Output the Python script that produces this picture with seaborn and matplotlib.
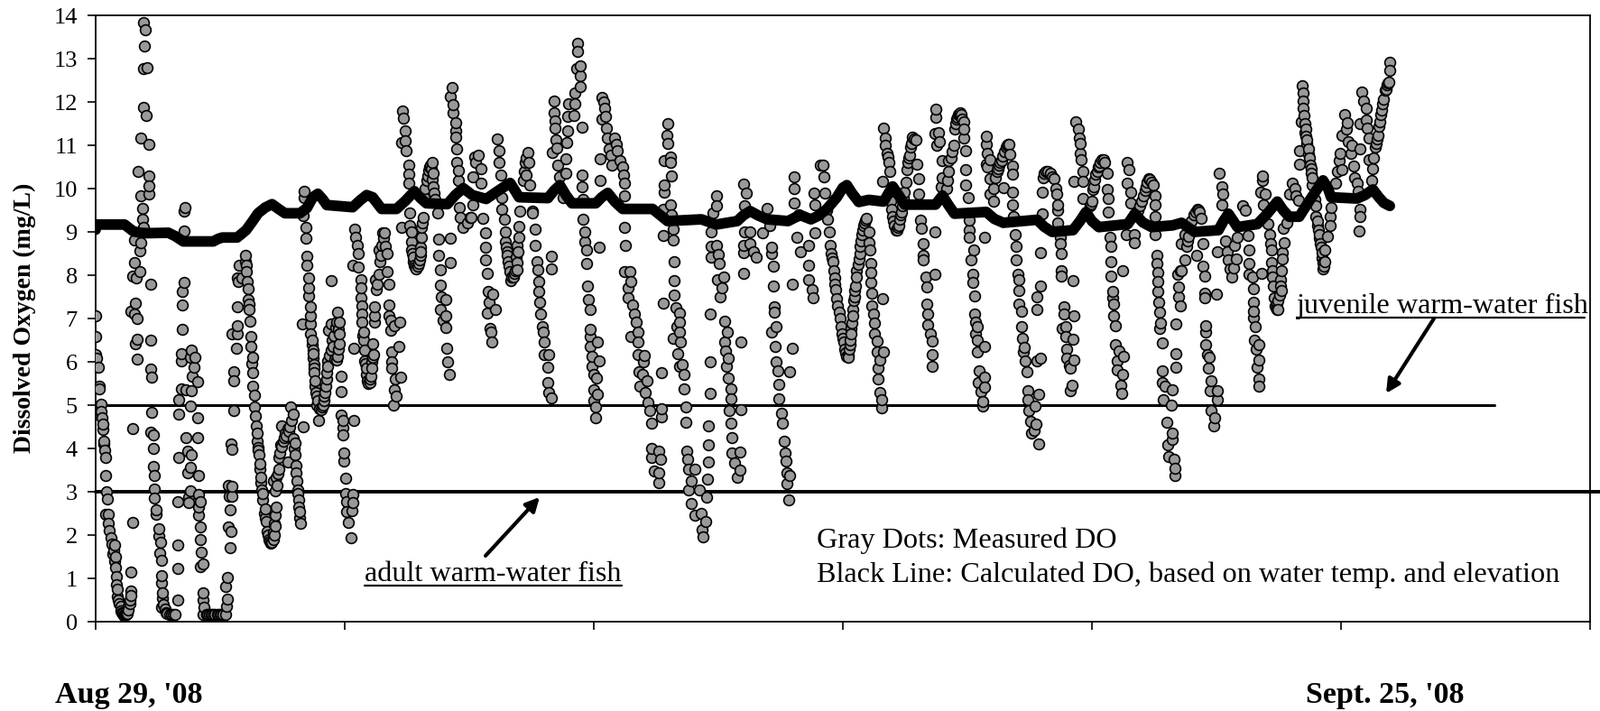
import matplotlib
matplotlib.use('Agg')
import matplotlib.pyplot as plt
import pandas as pd
import seaborn as sns

# half-hourly samples: (sample number, DO in mg/L)
day_01 = [(0,7.06),(0,6.58),(0,6.17),(1,6.08),(3,5.88),(4,5.43),(4,5.38),(5,5.03),(5,4.85),(7,4.57),(7,4.44),(8,4.17),(8,4.1),
          (10,3.79),(10,3.38),(11,2.99),(12,2.84),(10,2.48),(13,2.48),(13,2.28),(15,1.94),(16,1.8),(19,1.78),(17,1.56),(20,1.49),
          (20,1.26),(21,1.05),(21,.85),(22,.59),(23,.5),(25,.35),(25,.26),(26,.21),(29,.17),(32,.19),(33,.35),(34,.5),(35,.7),
          (35,1.15),(37,2.3),(37,4.46)]
day_02 = [(48,13.83),(50,13.67),(49,13.3),(48,12.78),(52,12.8),(48,11.88),(51,11.69),(45,11.17),(53,11.03),(43,10.4),(53,10.29),
          (53,10.07),(45,9.84),(53,9.88),(47,9.55),(47,9.3),(48,9.1),(39,8.82),(45,8.75),(44,8.57),(39,8.29),(44,8.09),(37,7.98),
          (41,7.94),(55,7.79),(40,7.36),(35,7.17),(39,7.1),(42,7),(42,6.53),(55,6.5),(40,6.42),(42,6.06),(55,5.83),(56,5.64),(56,4.83),
          (55,4.38),(58,4.31),(58,4.01),(58,3.59),(59,3.38),(59,3.07),(59,2.86),(61,2.58),(61,2.47),(63,2.15),(63,1.98),(65,1.84),
          (64,1.59),(66,1.41),(66,1.07),(66,.89),(67,.66),(67,.54),(66,.33),(70,.29),(71,.2),(74,.17),(80,.16),(82,.51),(82,1.22),
          (82,1.78),(82,2.78)]
day_03 = [(90,9.57),(89,9.48),(89,9.03),(89,7.83),(87,7.62),(87,7.31),(87,6.75),(86,6.19),(86,6.03),(96,6.27),(100,6.11),(95,6.1),
          (99,5.88),(97,5.66),(102,5.54),(86,5.38),(91,5.35),(96,5.33),(83,5.13),(95,4.98),(83,4.8),(102,4.71),(91,4.26),(102,4.24),
          (83,3.8),(92,3.94),(96,3.86),(95,3.57),(92,3.43),(103,3.38),(95,3.03),(93,2.87),(93,2.75),(103,2.93),(105,2.77),(103,2.65),
          (103,2.45),(105,2.19),(105,1.89),(106,1.61),(108,1.33),(105,1.27),(108,.66),(108,.49),(109,.33),(108,.17),(111,.16),(114,.16),
          (117,.16),(120,.16),(123,.16),(126,.16),(130,.17),(131,.35),(132,.52),(130,.82),(132,1.03),(135,1.7)]
day_04 = [(134,2.9),(133,3.15),(137,3.12),(137,2.9),(135,2.59),(133,2.19),(136,2.08),(136,4.11),(137,3.97),(139,4.87),(139,5.57),
          (139,5.78),(141,6.31),(142,6.64),(137,6.64),(142,6.84),(142,7.27),(150,8.45),(144,8.22),(142,7.94),(143,7.85),(147,7.94),
          (150,8.31),(151,8.22),(151,8.08),(152,7.85),(153,7.68),(153,7.43),(154,7.34),(154,7.2),(155,6.94),(156,6.59),(156,6.36),
          (158,6.1),(158,5.75),(158,5.43),(159,5.22),(159,4.96),(161,4.53),(162,4.36),(162,4.17),(163,4.03),(164,3.85),(165,3.52),
          (166,3.33),(167,3.05),(168,2.82),(169,2.5),(171,2.31),(172,2.08),(174,1.89),(176,1.82),(178,1.89),(178,2.06),(179,2.28),
          (180,2.45),(181,2.65),(180,3.03),(178,3.24),(181,3.33),(184,3.52),(184,3.8),(186,4.08),(188,4.17),(190,4.36),(193,4.45),
          (187,4.53),(195,4.5),(198,4.8),(196,4.96),(193,3.68),(208,4.5),(198,4.22),(200,4.12),(200,3.86),(201,3.61),(201,3.43),
          (202,3.24),(203,3.05),(204,2.82),(205,2.54),(206,2.28)]
day_05 = [(209,9.94),(209,9.8),(208,9.38),(211,9.1),(211,8.85),(212,8.43),(212,8.22),(214,7.94),(214,7.71),(214,7.52),(216,7.27),
          (216,7.06),(207,6.87),(216,6.87),(216,6.64),(217,6.5),(218,6.28),(218,6.08),(219,5.94),(219,5.75),(220,5.57),(220,5.43),
          (222,5.2),(222,5),(225,4.92),(224,4.64),(228,5),(229,5.2),(231,5.43),(232,5.75),(233,6.03),(236,6.27),(237,6.5),(234,6.73),
          (236,6.87),(242,6.92),(243,7.15),(245,6.92),(245,6.64),(245,6.41),(243,6.13),(240,6.06),(246,5.66),(246,5.31),(246,4.78),
          (248,4.64),(248,4.48),(248,4.31),(236,7.88),(249,3.89),(249,3.71),(251,3.31),(251,2.96),(259,4.64),(259,6.31),(252,2.77),
          (258,2.93),(258,2.75),(252,2.54),(257,2.56),(254,2.29),(256,1.93)]
day_06 = [(260,9.06),(261,8.87),(263,8.69),(264,8.5),(258,8.22),(264,8.18),(266,7.9),(266,7.71),(266,7.48),(267,7.29),(267,7.1),
          (267,6.92),(269,6.69),(269,6.5),(270,6.27),(270,6.03),(272,5.85),(273,5.57),(275,5.52),(276,5.66),(277,5.85),(279,6.17),
          (278,6.41),(280,6.92),(280,7.06),(280,7.27),(282,7.66),(281,7.9),(284,8.03),(285,8.31),(284,8.59),(287,8.69),(288,8.97),
          (290,8.97),(291,8.67),(293,8.5),(293,8.08),(294,7.8),(294,7.31),(294,7.06),(296,6.96),(296,6.73),(305,6.92),(300,6.84),
          (304,6.36),(297,6.22),(297,5.99),(297,5.85),(301,5.61),(306,5.64),(300,5.35),(302,5.2),(299,5),(307,9.1)]
day_07 = [(308,11.8),(309,11.62),(311,11.34),(311,11.11),(307,11.06),(312,10.87),(314,10.55),(314,10.34),(314,10.13),(315,9.43),
          (315,9.15),(317,9.01),(317,8.78),(317,8.59),(319,8.41),(320,8.22),(324,8.27),(326,8.45),(326,8.64),(327,8.87),(327,9.1),
          (329,9.34),(330,9.8),(332,10.18),(334,10.41),(338,10.6),(339,10.36),(339,10.04),(341,9.76),(343,9.43),(344,8.83),(344,8.45),
          (346,8.13),(346,7.78),(347,7.5),(346,7.2),(349,6.96),(351,7.43),(351,7.06),(351,6.8),(352,6.31),(353,6),(355,5.71),(356,8.85),
          (356,8.29)]
day_08 = [(358,12.34),(356,12.13),(359,11.93),(359,11.74),(361,11.53),(361,11.34),(361,11.18),(362,10.92),(362,10.6),(364,10.41),
          (364,10.18),(365,9.57),(366,9.34),(369,9.1),(373,9.2),(376,9.34),(379,9.62),(379,10.27),(380,10.73),(384,10.78),(381,10.6),
          (387,10.46),(387,10.13),(377,9.34),(389,9.32),(391,8.98),(391,8.65),(391,8.36),(393,8.05),(394,7.62),(399,7.57),(395,7.38),
          (401,7.2),(393,7.13),(396,6.78),(397,6.68),(398,6.45)]
day_09 = [(403,11.15),(405,10.87),(405,10.6),(407,10.32),(408,9.8),(408,9.52),(410,9.29),(411,9.01),(411,8.78),(413,8.55),(414,8.31),
          (416,8.08),(417,7.87),(420,8.04),(423,8.13),(422,8.41),(423,8.69),(425,8.87),(425,9.13),(426,9.48),(429,10.18),(434,10.83),
          (431,10.6),(435,10.6),(432,10.32),(436,10.08),(438,9.48),(438,9.43),(441,9.06),(441,8.69),(443,8.31),(444,8.13),(445,7.85),
          (445,7.62),(446,7.38),(447,7.1),(448,6.82),(449,6.68),(450,6.45),(450,6.17),(455,6.17),(454,5.87),(454,5.52),(455,5.29),
          (457,5.17),(457,8.43),(457,8.15)]
day_10 = [(460,12.02),(460,11.76),(461,11.57),(461,11.39),(462,11.13),(458,10.83),(463,10.94),(464,10.55),(466,10.27),(469,9.8),
          (472,10.36),(472,10.69),(474,11.34),(473,11.06),(475,11.95),(474,11.67),(481,11.95),(480,11.69),(481,12.2),(486,12.36),
          (486,12.6),(483,12.78),(486,12.84),(484,13.16),(484,13.36),(488,11.41)]
day_11 = [(488,10.32),(488,10.04),(489,9.76),(489,9.29),(491,9.01),(491,8.78),(493,8.59),(493,8.27),(494,7.76),(495,7.43),(496,7.2),
          (496,6.75),(496,6.59),(496,6.36),(498,6.13),(498,5.89),(500,5.71),(504,6.45),(505,6.02),(503,5.62),(500,5.35),(504,5.26),
          (500,5.1),(502,4.96),(502,4.71),(505,8.65),(506,10.69),(506,10.18)]
day_12 = [(508,12.11),(510,12),(511,11.86),(512,11.67),(508,11.6),(513,11.39),(514,11.16),(515,10.92),(517,10.78),(518,10.55),
          (521,11.16),(523,11.02),(524,10.88),(526,10.64),(529,10.5),(530,10.32),(531,10.13),(531,9.83),(531,9.1),(532,8.69),(531,8.08),
          (536,8.08),(537,7.85),(534,7.71),(534,7.48),(539,7.31),(541,7.1),(543,6.92),(544,6.68),(537,6.59),(544,6.45),(544,6.17),
          (551,6.15),(550,6),(545,5.78),(549,5.71),(553,5.57),(546,5.43),(552,5.29),(554,5.06),(556,4.87),(558,4.59),(568,4.92),
          (568,4.73),(568,5.75),(558,3.99),(558,3.8),(561,3.47),(565,3.94),(567,3.75),(565,3.43),(565,3.2)]
day_13 = [(574,11.51),(573,11.22),(574,11.04),(571,10.64),(577,10.73),(577,10.6),(578,10.29),(571,10.08),(571,9.92),(577,9.62),
          (578,9.39),(570,9.52),(580,9.06),(570,8.92),(580,8.81),(581,8.31),(581,7.87),(581,7.54),(570,7.36),(582,7.24),(586,7.12),
          (583,6.82),(586,6.92),(586,6.68),(580,6.55),(587,6.45),(584,6.19),(589,5.94),(586,5.89),(591,5.71),(591,5.38),(592,4.96),
          (592,4.61),(593,3.94),(594,3.75),(595,3.52),(601,3.52),(598,3.24),(595,3.05),(598,2.73),(601,2.45),(606,3.05),(608,2.5),
          (612,2.31),(609,2.12),(610,1.96),(614,3.29),(613,2.87),(615,3.68),(615,4.08),(615,4.53),(617,5.27),(617,5.99),(617,7.1)]
day_14 = [(623,9.83),(623,9.6),(620,9.43),(618,9.01),(618,8.67),(623,8.69),(618,8.41),(625,8.47),(626,8.27),(624,7.9),(630,7.96),
          (629,7.71),(627,7.5),(631,6.94),(634,6.68),(631,6.45),(632,6.26),(635,6.08),(633,5.89),(635,5.62),(638,5.38),(638,5.15),
          (636,4.87),(638,4.59),(639,4.26),(639,3.89),(647,3.92),(641,3.66),(647,3.49),(644,3.33),(648,6.45),(648,4.89)]
day_15 = [(650,10.1),(653,9.9),(651,9.6),(651,9.01),(650,8.69),(650,8.52),(650,8.05),(657,9.01),(657,8.73),(660,8.55),(663,8.41),
          (669,8.97),(674,9.54),(677,9.15),(678,8.64),(678,8.5),(680,8.2),(680,7.76),(681,7.27),(681,7.15),(683,6.81),(678,6.69),
          (682,6.36),(683,5.99),(685,5.8),(686,5.47),(686,5.15),(688,4.82),(689,4.59),(691,4.17),(692,3.89),(693,3.71),(694,3.43),
          (697,3.38),(694,3.19),(696,2.82),(699,6.31),(697,5.78),(699,7.8)]
day_16 = [(701,10.27),(701,9.99),(701,9.66),(706,9.39),(704,8.87),(707,8.55),(716,8.69),(722,8.97),(716,8.22),(716,7.9),(719,7.66),
          (720,7.48),(722,9.62),(721,9.9),(727,10.55),(730,10.55),(731,10.27),(732,9.9),(735,9.29),(736,9.01),(737,8.69),(740,8.31),
          (742,7.94),(743,7.66),(745,7.29),(748,6.82),(751,6.45),(755,6.1),(754,6.12),(757,6.5),(758,6.78),(760,7.06),(761,7.41),
          (763,7.76),(764,8.1),(766,8.38),(767,8.66),(769,8.94),(772,9.21),(774,9.32)]
day_17 = [(776,9),(776,8.76),(777,8.59),(778,8.28),(778,8.07),(778,7.83),(779,7.58),(779,7.3),(781,7.1),(782,6.89),(782,6.64),
          (784,6.47),(784,6.23),(791,6.23),(787,6.05),(785,5.85),(785,5.6),(787,5.29),(789,5.12),(789,4.94),(790,7.46)]
day_18 = [(791,11.4),(793,11.16),(793,10.99),(794,10.81),(796,10.6),(797,10.39),(790,10.17),(799,9.53),(800,9.35),(803,9.04),(806,9.15),
          (809,9.46),(812,9.91),(814,10.43),(817,10.78),(820,11.19),(823,11.12),(824,10.57),(826,10.22),(826,9.87),(828,9.28),(829,9.08),
          (842,8.99),(831,8.73),(831,8.46),(831,8.35),(842,8.02),(833,7.96),(834,7.72),(834,7.34),(835,7.1),(835,6.85),(838,6.64),
          (840,6.47),(840,6.16),(840,5.9)]
day_19 = [(843,11.84),(843,11.65),(842,11.28),(846,11.3),(847,11.09),(844,10.99),(850,10.64),(856,10.64),(856,10.39),(855,10.19),
          (850,10.26),(854,10.01),(849,10.05),(861,10.99),(862,11.37),(865,11.65),(868,11.75),(871,11.54),(871,11.37),(871,11.16),
          (873,10.88),(873,10.43),(873,10.08),(876,9.8),(877,9.28),(877,9.04),(877,8.87),(881,8.59),(879,8.35),(880,8.02),(880,7.83),
          (882,7.53),(882,7.1),(883,6.92),(885,6.82),(883,6.64),(885,6.5),(892,6.35),(885,6.23),(892,8.87),(887,5.8),(892,5.64),
          (886,5.53),(892,5.41),(889,5.32),(890,5.08),(890,4.98)]
day_20 = [(894,11.21),(894,11.02),(895,10.81),(898,10.67),(894,10.57),(905,10.39),(903,10.26),(898,10.22),(901,10),(898,9.87),(901,9.7),
          (911,10.03),(920,10.53),(920,10.33),(920,9.91),(920,9.62),(909,10.64),(914,10.95),(917,11.02),(918,10.8),(921,9.35),(923,8.94),
          (924,8.66),(924,8.35),(926,8.03),(927,7.89),(927,7.65),(927,7.34),(929,7.17),(929,6.82),(930,6.54),(932,6.33),(931,6.23),
          (933,6.02),(935,5.78),(936,5.33),(936,5.12),(947,5.24),(943,4.98),(937,4.87),(938,4.63),(944,4.56),(942,4.42),(939,4.35),
          (947,4.11),(948,8.53),(948,7.76),(945,7.49),(945,7.21),(948,6.09),(945,6.02)]
day_21 = [(954,10.39),(951,10.26),(950,9.91),(962,10.22),(965,9.87),(966,9.63),(966,9.51),(950,9.42),(966,9.21),(968,8.87),(968,8.73),
          (969,8.49),(969,8.1),(969,7.98),(981,7.87),(972,7.27),(972,7.1),(982,7.06),(974,6.82),(970,6.78),(981,6.53),(974,6.58),(975,6.3),
          (975,6.09),(982,6.05),(977,5.92),(978,5.85),(980,5.45),(978,5.33)]
day_22 = [(984,11.54),(986,11.37),(987,11.16),(988,11.05),(988,10.81),(989,10.67),(991,10.39),(991,10.17),(982,10.17),(991,9.77),
          (1000,9.7),(1001,9.98),(1004,10.33),(1007,10.53),(1012,10.67),(1015,10.36),(1015,9.98),(1016,9.77),(1016,9.46),(1018,8.87),
          (1019,8.66),(1019,8.31),(1019,7.98),(1021,7.62),(1021,7.48),(1022,7.33),(1022,7.06),(1024,6.84),(1024,6.4),(1027,6.24),(1032,6.12),
          (1025,6.02),(1031,8.1),(1025,5.81),(1031,5.71),(1029,5.46),(1030,5.27)]
day_23 = [(1035,10.6),(1037,10.43),(1035,10.12),(1039,9.91),(1039,9.67),(1048,9.6),(1052,9.84),(1057,10.22),(1062,10.08),(1063,9.84),
          (1063,9.63),(1063,9.35),(1063,8.94),(1034,8.94),(1043,8.94),(1043,8.76),(1065,8.46),(1065,8.28),(1066,8.07),(1066,7.86),(1066,7.63),
          (1067,7.37),(1068,7.14),(1069,6.89),(1068,6.78),(1071,6.44),(1084,6.87),(1084,6.19),(1084,5.87),(1071,5.79),(1071,5.53),(1073,5.43),
          (1081,5.35),(1072,5.12),(1080,5),(1075,4.6),(1081,4.35),(1081,4.2),(1076,4.08),(1077,3.81),(1082,3.76),(1083,3.55),(1083,3.38)]
day_24 = [(1089,8.1),(1086,8.03),(1087,7.72),(1087,7.51),(1089,7.3),(1090,8.1),(1093,8.35),(1095,8.66),(1093,8.94),(1090,8.73),(1099,9.21),
          (1106,9.53),(1110,9.32),(1105,8.45),(1111,8.21),(1113,7.98),(1113,7.58),(1113,7.48),(1125,7.56),(1111,8.73),(1114,6.84),(1114,6.69),
          (1114,6.4),(1116,6.16),(1118,6.11),(1117,5.85),(1120,5.57),(1119,5.33),(1126,5.33),(1126,5.12),(1120,4.87),(1123,4.7),(1122,4.53)]
day_25 = [(1128,10.36),(1130,10.05),(1131,9.87),(1130,9.63),(1134,8.8),(1136,8.55),(1137,8.35),(1139,8.14),(1140,7.96),(1142,8.17),
          (1145,8.38),(1146,8.87),(1143,8.69),(1126,8.54),(1151,9.6),(1154,9.49),(1157,8.92),(1158,8.58),(1158,8.28),(1158,8.03),(1161,7.96),
          (1162,7.69),(1170,8.05),(1162,7.37),(1162,7.17),(1162,7.03),(1164,6.82),(1163,6.49),(1168,6.39),(1165,6.3),(1168,6.05),(1166,5.88),
          (1168,5.6),(1168,5.43)]
day_26 = [(1171,10.29),(1171,10.19),(1169,9.91),(1174,9.87),(1172,9.63),(1177,9.18),(1178,8.94),(1179,8.73),(1180,8.58),(1180,8.3),
          (1181,8.1),(1181,7.96),(1182,7.76),(1183,7.48),(1186,7.2),(1187,7.41),(1189,7.76),(1190,8.1),(1191,8.38),(1191,8.53),(1193,8.76),
          (1192,9.08),(1196,9.21),(1201,10.12),(1204,10.01),(1205,9.84),(1207,9.73),(1198,9.87)]
day_27 = [(1211,12.37),(1212,12.2),(1212,12.03),(1212,11.85),(1213,11.68),(1210,11.54),(1214,11.51),(1215,11.37),(1216,11.12),(1208,10.88),
          (1208,10.57),(1217,10.92),(1218,10.71),(1220,10.46),(1221,10.26),(1221,10.08),(1225,9.6),(1225,9.35),(1226,9.14),(1228,8.94),
          (1229,8.73),(1231,8.52),(1232,8.14),(1234,8.31),(1234,8.58),(1236,8.9),(1239,9.14),(1239,9.35),(1240,9.56)]
day_28 = [(1245,10.12),(1246,10.4),(1251,10.43),(1248,10.64),(1249,10.81),(1251,11.23),(1254,11.7),(1256,11.52),(1255,11.37),(1257,11.09),
          (1261,10.99),(1260,10.81),(1263,10.53),(1264,10.26),(1266,10.12),(1267,9.94),(1269,9.53),(1269,9.35),(1268,9.02),(1271,12.23),
          (1273,12.03),(1275,11.85),(1269,11.51),(1275,11.58),(1276,11.4),(1278,11.16),(1269,10.92),(1278,10.67),(1282,10.46),(1281,10.19),
          (1283,10.71),(1284,10.95),(1287,11.23),(1288,11.44),(1291,11.82),(1293,12.06),(1294,12.27),(1297,12.44),(1299,12.72),(1299,12.92)]

# extra dots where the strands run solid in the picture
solid_early = [(6,4.7),(9,3.95),(14,2.1),(18,1.65),(19,1.4),(22,.75),(24,.42),(27,.18),(28,.15),(30,.16),(31,.17),(33,.28),(34,.42),(35,.6),
               (68,.4),(72,.18),(76,.16),(78,.16),(112,.16),(116,.16),(119,.16),(122,.16),(125,.16),(128,.16)]
solid_v1 = [(157,5.95),(160,4.75),(163,3.95),(165,3.65),(166,3.2),(168,2.95),(170,2.6),(170,2.4),(173,2),(175,1.85),(177,1.84),(179,2),
            (180,2.2),(182,3.15),(183,3.42),(185,3.9),(187,4.05),(189,4.25),(191,4.3),(194,4.4),(197,4.65),(199,4),(203,2.95),(204,2.65),(205,2.4)]
solid_v2 = [(221,5.3),(223,5.1),(226,4.9),(227,4.95),(229,5.1),(230,5.3),(232,5.6),(233,5.9),(235,6.15),(238,6.35),(239,6.6),(241,6.8),
            (244,6.75),(244,6.3),(242,6.05),(217,6.4),(218,6.18),(219,5.85)]
solid_v3 = [(268,6.6),(271,5.95),(272,5.7),(274,5.5),(275,5.6),(277,6),(278,6.1),(283,7.8),(286,8.45),(289,8.85),
            (318,8.5),(319,8.32),(321,8.18),(322,8.15),(323,8.2),(325,8.35),(326,8.55),(328,9.2),(331,10),(333,10.3),(335,10.5),(336,10.55),
            (337,10.45),(338,10.2),(340,9.9)]
solid_v4 = [(412,8.65),(413,8.45),(415,8.2),(418,7.95),(419,7.95),(421,8.1),(423,8.3),(424,8.55),(430,10.4),(432,10.7)]
solid_v5 = [(734,9.5),(738,8.5),(739,8.4),(741,8.1),(742,7.8),(744,7.45),(746,7.15),(747,7),(749,6.65),(750,6.55),(752,6.3),(753,6.2),
            (755,6.15),(756,6.3),(757,6.4),(758,6.65),(759,6.9),(760,7.2),(762,7.5),(762,7.65),(764,7.95),(765,8.25),(767,8.5),(768,8.8),
            (770,9.05),(771,9.15),(773,9.28)]
solid_v6 = [(801,9.25),(802,9.15),(804,9.05),(805,9.1),(807,9.3),(808,9.4),(810,9.6),(811,9.8),(813,10.15),(815,10.6),(816,10.7),(818,10.95),
            (819,11.05),(822,11.15),(795,10.72),(798,9.7),(859,10.7),(860,10.85),(863,11.5),(864,11.6),(866,11.7),(867,11.73),(869,11.7),
            (870,11.6),(895,10.5),(906,10.45),(907,10.55),(908,10.6),(910,10.75),(912,10.85),(915,11),(916,11.02)]
solid_v7 = [(998,9.6),(999,9.65),(1002,10.05),(1003,10.2),(1005,10.4),(1006,10.5),(1008,10.6),(1010,10.66),(1013,10.6),
            (1046,9.5),(1050,9.7),(1053,9.95),(1054,10.05),(1055,10.15),(1058,10.2),(1060,10.15),(952,10.35),(956,10.4),(958,10.35),(960,10.28),(964,10),
            (1184,7.3),(1185,7.25),(1186,7.35),(1187,7.2),(1188,7.55),(1189,7.9),(1190,7.65),(1096,8.8),(1097,8.9),(1098,9.1),(1100,9.25),(1102,9.4),
            (1104,9.45),(1107,9.5),(1108,9.45)]
solid_end = [(1214,11.3),(1215,11.2),(1216,11.05),(1217,10.8),(1219,10.55),(1220,10.35),(1224,9.75),(1226,9.25),(1227,9.05),(1228,8.85),
             (1230,8.65),(1231,8.4),(1232,8.3),(1233,8.2),(1285,11.05),(1286,11.15),(1289,11.55),(1290,11.7),(1292,11.95),(1295,12.3),(1296,12.4),(1298,12.45)]

calc_do = [(0,9.05),(1,9.17),(16,9.17),(29,9.17),(34,9.08),(38,9.01),(45,8.98),(52,8.97),(73,8.98),(80,8.9),(88,8.78),(118,8.78),(123,8.84),(127,8.87),
           (142,8.87),(151,9.04),(157,9.23),(163,9.43),(170,9.56),(177,9.64),(183,9.54),(190,9.43),(205,9.43),(212,9.55),(218,9.8),(223,9.88),
           (228,9.75),(232,9.62),(258,9.57),(265,9.72),(272,9.85),(278,9.8),(283,9.65),(287,9.53),(302,9.53),(311,9.72),(320,9.94),(326,9.78),
           (332,9.66),(353,9.64),(361,9.85),(369,10.01),(378,9.85),(392,9.76),(404,9.95),(416,10.13),(421,9.95),(425,9.8),(454,9.78),(460,9.95),
           (466,10.08),(472,9.85),(478,9.66),(502,9.66),(508,9.8),(514,9.9),(521,9.7),(529,9.53),(559,9.53),(566,9.4),(574,9.25),(608,9.29),
           (623,9.17),(644,9.25),(650,9.38),(657,9.48),(665,9.38),(674,9.29),(695,9.25),(707,9.39),(718,9.29),(726,9.38),(734,9.53),(744,9.8),
           (750,10.02),(754,10.08),(759,9.9),(766,9.69),(776,9.74),(791,9.7),(796,9.9),(800,10.05),(806,9.85),(812,9.63),(843,9.63),(850,9.84),
           (856,9.62),(862,9.42),(894,9.46),(902,9.3),(911,9.21),(945,9.28),(952,9.12),(960,9),(981,9.04),(988,9.25),(994,9.46),(1000,9.25),
           (1007,9.11),(1036,9.18),(1043,9.42),(1051,9.22),(1060,9.11),(1081,9.15),(1090,9.21),(1103,9),(1127,9.04),(1132,9.25),(1137,9.42),
           (1142,9.25),(1146,9.11),(1166,9.18),(1176,9.42),(1186,9.7),(1192,9.5),(1198,9.35),(1208,9.35),(1220,9.78),(1232,10.19),(1237,10),(1240,9.8),
           (1266,9.77),(1274,9.85),(1282,9.98),(1288,9.8),(1293,9.67),(1299,9.6)]

juvenile_limit = 5
adult_limit = 3
juvenile_x = [0, 1404]
adult_x = [0, 1510]
x_ticks = [0, 250, 500, 750, 1000, 1250, 1500]
y_ticks = list(range(0, 15))

days = [day_01, day_02, day_03, day_04, day_05, day_06, day_07, day_08, day_09, day_10, day_11, day_12, day_13, day_14,
        day_15, day_16, day_17, day_18, day_19, day_20, day_21, day_22, day_23, day_24, day_25, day_26, day_27, day_28,
        solid_early, solid_v1, solid_v2, solid_v3, solid_v4, solid_v5, solid_v6, solid_v7, solid_end]
measured = pd.DataFrame([p for d in days for p in d], columns=['sample', 'do']).sort_values('sample')
calculated = pd.DataFrame(calc_do, columns=['sample', 'do'])

W, H = 1773, 788
sns.set_theme(style='white')
plt.rcParams['font.family'] = ['Liberation Serif', 'DejaVu Serif']

fig = plt.figure(figsize=(W / 100, H / 100), dpi=100)
ax = fig.add_axes([106 / W, 1 - 689 / H, 1656 / W, 672 / H])

sns.scatterplot(data=measured, x='sample', y='do', color='#999999', edgecolor='black', linewidth=1.2, s=72, ax=ax, zorder=3)
sns.lineplot(data=calculated, x='sample', y='do', sort=False, estimator=None, color='black', linewidth=8.5,
             solid_capstyle='round', solid_joinstyle='round', ax=ax, zorder=4)
sns.lineplot(x=juvenile_x, y=[juvenile_limit] * 2, color='black', linewidth=2.2, estimator=None, ax=ax, zorder=2)
sns.lineplot(x=adult_x, y=[adult_limit] * 2, color='black', linewidth=2.8, estimator=None, ax=ax, zorder=2, clip_on=False)

ax.set_xlim(0, 1500)
ax.set_ylim(0, 14)
ax.set_xticks(x_ticks)
ax.set_xticklabels([])
ax.set_yticks(y_ticks)
ax.tick_params(axis='both', length=6.5, width=1.2, color='black', left=True, bottom=True, labelsize=19, labelcolor='black', pad=8)
for s in ax.spines.values():
    s.set_color('black')
    s.set_linewidth(1.3)
ax.set_xlabel('')
ax.set_ylabel('')


def put(x, y, txt, **kw):
    fig.text(x / W, 1 - y / H, txt, color='black', **kw)


put(27, 352, 'Dissolved Oxygen (mg/L)', fontsize=20, fontweight='bold', rotation=90, ha='center', va='center')
put(61, 779, "Aug 29, '08", fontsize=24.5, fontweight='bold', ha='left', va='baseline')
put(1447, 779, "Sept. 25, '08", fontsize=24.5, fontweight='bold', ha='left', va='baseline')
put(905, 607, 'Gray Dots: Measured DO', fontsize=23.2, ha='left', va='baseline')
put(905, 645, 'Black Line: Calculated DO, based on water temp. and elevation', fontsize=23.2, ha='left', va='baseline')
put(404, 644, 'adult warm-water fish', fontsize=23.2, ha='left', va='baseline')
put(1437, 347, 'juvenile warm-water fish', fontsize=23.2, ha='left', va='baseline')

# underlines and arrows sit in figure pixels, same as the text
for x0, x1, y in [(404, 689, 649), (1437, 1756, 352)]:
    fig.add_artist(plt.Line2D([x0 / W, x1 / W], [1 - y / H] * 2, color='black', linewidth=1.6))
for start, end in [((538, 616), (598, 551)), ((1589, 353), (1536, 436))]:
    ax.annotate('', xy=(end[0], H - end[1]), xytext=(start[0], H - start[1]),
                xycoords='figure pixels', textcoords='figure pixels', annotation_clip=False,
                arrowprops=dict(arrowstyle='-|>,head_length=0.75,head_width=0.38', color='black', linewidth=3,
                                shrinkA=0, shrinkB=0))

fig.savefig('out.png', dpi=100)
